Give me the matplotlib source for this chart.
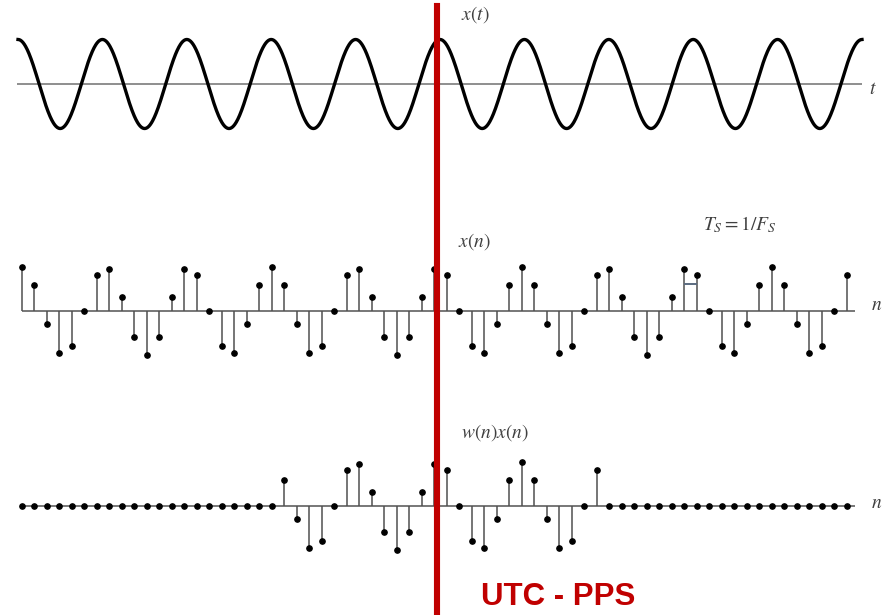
import numpy as np
import matplotlib
matplotlib.use('Agg')
import matplotlib.pyplot as plt

plt.rcParams['mathtext.fontset'] = 'stix'

# --- data ---
# sampled signal x(n), n = 0..66, in units of the peak amplitude
xn = [1.0, 0.59, -0.31, -0.95, -0.81, 0.0, 0.81, 0.95, 0.31, -0.59,
      -1.0, -0.59, 0.31, 0.95, 0.81, 0.0, -0.81, -0.95, -0.31, 0.59,
      1.0, 0.59, -0.31, -0.95, -0.81, 0.0, 0.81, 0.95, 0.31, -0.59,
      -1.0, -0.59, 0.31, 0.95, 0.81, 0.0, -0.81, -0.95, -0.31, 0.59,
      1.0, 0.59, -0.31, -0.95, -0.81, 0.0, 0.81, 0.95, 0.31, -0.59,
      -1.0, -0.59, 0.31, 0.95, 0.81, 0.0, -0.81, -0.95, -0.31, 0.59,
      1.0, 0.59, -0.31, -0.95, -0.81, 0.0, 0.81]
# windowed signal w(n)x(n), window open from n=21 to n=46
wxn = [0.0] * 21 + \
      [0.59, -0.31, -0.95, -0.81, 0.0, 0.81, 0.95, 0.31, -0.59,
       -1.0, -0.59, 0.31, 0.95, 0.81, 0.0, -0.81, -0.95, -0.31, 0.59,
       1.0, 0.59, -0.31, -0.95, -0.81, 0.0, 0.81] + [0.0] * 20
n = np.arange(len(xn))

# continuous x(t): cosine, 10 full cycles, peak at t=0
cycles = 10
amp = 1.0
pps_n = 33.2          # where the PPS marker falls, in sample units
ts_mark = (53, 54, 0.6)  # Ts bracket between two samples

W, H = 886, 615
fig = plt.figure(figsize=(W / 100, H / 100), dpi=100)

def row_axes(center, half=60):
    ax = fig.add_axes([0, 1 - (center + half) / H, 1, 2 * half / H])
    ax.set_axis_off()
    return ax

# scales: n=0 at px 21.7, 12.5 px per sample; t=0 at px 18, 84.4 px per cycle
nlim = (-21.7 / 12.5, (W - 21.7) / 12.5)
tlim = (-18 / 84.4, (W - 18) / 84.4)

# row 1 - continuous signal
ax1 = row_axes(84)
ax1.set_xlim(*tlim)
ax1.set_ylim(-60 / 44.5, 60 / 44.5)
t = np.linspace(0, cycles, 2000)
ax1.hlines(0, -0.012, cycles, color='#707070', lw=1.1)
ax1.plot(t, amp * np.cos(2 * np.pi * t), color='black', lw=2.4)

# rows 2 and 3 - stems
def stems(ax, vals):
    ax.set_xlim(*nlim)
    ax.set_ylim(-60 / 44, 60 / 44)
    ax.hlines(0, 0, 66.7, color='#606060', lw=1.2, zorder=1)
    ax.vlines(n, 0, vals, color='#505050', lw=1.1, zorder=2)
    ax.plot(n, vals, 'o', color='black', ms=3.8, zorder=3)

ax2 = row_axes(310.7)
stems(ax2, xn)
ax2.hlines(ts_mark[2], ts_mark[0], ts_mark[1], color='#5b6b80', lw=1.4, zorder=2)

ax3 = row_axes(505.7)
stems(ax3, wxn)

# overlay: PPS marker
ov = fig.add_axes([0, 0, 1, 1])
ov.set_axis_off()
ov.set_xlim(*nlim)
ov.set_ylim(0, 1)
ov.axvline(pps_n, ymin=0, ymax=1 - 6 / H, color='#c00000', lw=4.4, zorder=10)

def label(px, py, s, **kw):
    fig.text(px / W, 1 - py / H, s, ha='center', va='center',
             color='#404040', fontsize=14, **kw)

label(475, 15, r'$x(t)$')
label(873, 88, r'$t$')
label(474, 242, r'$x(n)$')
label(877, 304, r'$n$')
label(495, 433, r'$w(n)x(n)$')
label(877, 503, r'$n$')
label(740, 225, r'$T_S = 1/F_S$')

fig.text(481 / W, 1 - 597 / H, 'UTC - PPS', ha='left', va='center',
         color='#c00000', fontsize=22.5, fontweight='bold',
         family='Liberation Sans')

fig.savefig('out.png', dpi=100, facecolor='white')
